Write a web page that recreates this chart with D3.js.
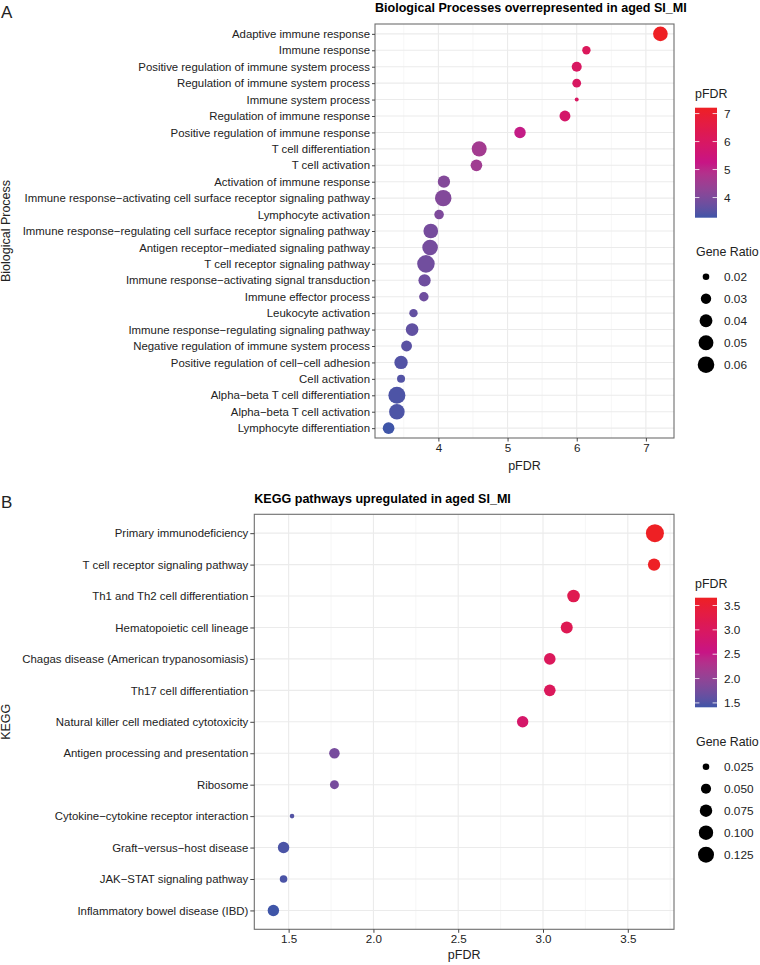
<!DOCTYPE html>
<html>
<head>
<meta charset="utf-8">
<script src="https://cdn.jsdelivr.net/npm/d3@7"></script>
<style>
  html, body { margin: 0; padding: 0; background: #fff; }
  svg text { font-family: "Liberation Sans", Arial, sans-serif; }
</style>
</head>
<body>
<svg id="chart" width="760" height="965"></svg>
<script>
// ---------- Panel A data ----------
const categoriesA = [
  "Adaptive immune response",
  "Immune response",
  "Positive regulation of immune system process",
  "Regulation of immune system process",
  "Immune system process",
  "Regulation of immune response",
  "Positive regulation of immune response",
  "T cell differentiation",
  "T cell activation",
  "Activation of immune response",
  "Immune response\u2212activating cell surface receptor signaling pathway",
  "Lymphocyte activation",
  "Immune response\u2212regulating cell surface receptor signaling pathway",
  "Antigen receptor\u2212mediated signaling pathway",
  "T cell receptor signaling pathway",
  "Immune response\u2212activating signal transduction",
  "Immune effector process",
  "Leukocyte activation",
  "Immune response\u2212regulating signaling pathway",
  "Negative regulation of immune system process",
  "Positive regulation of cell\u2212cell adhesion",
  "Cell activation",
  "Alpha\u2212beta T cell differentiation",
  "Alpha\u2212beta T cell activation",
  "Lymphocyte differentiation"
];
const pfdrA = [7.21, 6.14, 6.00, 6.00, 6.00, 5.83, 5.18, 4.59, 4.55, 4.08, 4.07, 4.01, 3.89, 3.88, 3.82, 3.80, 3.79, 3.64, 3.62, 3.54, 3.46, 3.46, 3.40, 3.40, 3.28];
const geneRatioA = [0.049, 0.024, 0.029, 0.025, 0.0166, 0.032, 0.034, 0.051, 0.035, 0.0375, 0.059, 0.0275, 0.049, 0.054, 0.066, 0.0375, 0.027, 0.024, 0.039, 0.032, 0.0425, 0.023, 0.0625, 0.054, 0.035];
const xTicksA = [4, 5, 6, 7];
const colorTicksA = [4, 5, 6, 7];
const sizeKeysA = [0.02, 0.03, 0.04, 0.05, 0.06];
const sizeKeyLabelsA = ["0.02", "0.03", "0.04", "0.05", "0.06"];

// ---------- Panel B data ----------
const categoriesB = [
  "Primary immunodeficiency",
  "T cell receptor signaling pathway",
  "Th1 and Th2 cell differentiation",
  "Hematopoietic cell lineage",
  "Chagas disease (American trypanosomiasis)",
  "Th17 cell differentiation",
  "Natural killer cell mediated cytotoxicity",
  "Antigen processing and presentation",
  "Ribosome",
  "Cytokine\u2212cytokine receptor interaction",
  "Graft\u2212versus\u2212host disease",
  "JAK\u2212STAT signaling pathway",
  "Inflammatory bowel disease (IBD)"
];
const pfdrB = [3.66, 3.655, 3.18, 3.14, 3.04, 3.04, 2.88, 1.77, 1.77, 1.52, 1.47, 1.47, 1.41];
const geneRatioB = [0.160, 0.074, 0.0765, 0.069, 0.065, 0.065, 0.063, 0.054, 0.040, 0.0176, 0.063, 0.0305, 0.063];
const xTicksB = [1.5, 2.0, 2.5, 3.0, 3.5];
const colorTicksB = [1.5, 2.0, 2.5, 3.0, 3.5];
const sizeKeysB = [0.025, 0.050, 0.075, 0.100, 0.125];
const sizeKeyLabelsB = ["0.025", "0.050", "0.075", "0.100", "0.125"];

const titleA = "Biological Processes overrepresented in aged SI_MI";
const titleB = "KEGG pathways upregulated in aged SI_MI";

const colLow = "#3F55A8", colMid = "#C71585", colHigh = "#EE2024";

const svg = d3.select("#chart");

function drawPanel(cfg) {
  const g = svg.append("g");
  const {left, right, top, bottom} = cfg.box;
  const ext = d3.extent(cfg.values);
  const pad = (ext[1] - ext[0]) * 0.05;
  const x = d3.scaleLinear().domain([ext[0] - pad, ext[1] + pad]).range([left, right]);
  const y = d3.scalePoint().domain(cfg.categories).range([top, bottom]).padding(0.6);
  const mid = (ext[0] + ext[1]) / 2;
  const color = d3.scaleLinear().domain([ext[0], mid, ext[1]]).range([colLow, colMid, colHigh]).interpolate(d3.interpolateLab);
  const size = d3.scaleSqrt().domain([0, 0.05]).range([cfg.rLo, cfg.rLo + cfg.rK * Math.sqrt(0.05)]);
  const rad = v => size(Math.max(0, v - cfg.sizeFloor));

  // gridlines
  const minor = [];
  const ticks = cfg.xTicks;
  const step = ticks[1] - ticks[0];
  for (let i = -1; i < ticks.length; i++) {
    const m = (i < 0 ? ticks[0] - step : ticks[i]) + step / 2;
    if (m > x.domain()[0] && m < x.domain()[1]) minor.push(m);
  }
  g.append("g").selectAll("line").data(minor).join("line")
    .attr("x1", d => x(d)).attr("x2", d => x(d)).attr("y1", top).attr("y2", bottom)
    .attr("stroke", "#F0F0F0").attr("stroke-width", 0.6);
  g.append("g").selectAll("line").data(ticks).join("line")
    .attr("x1", d => x(d)).attr("x2", d => x(d)).attr("y1", top).attr("y2", bottom)
    .attr("stroke", "#EBEBEB").attr("stroke-width", 1.1);
  g.append("g").selectAll("line").data(cfg.categories).join("line")
    .attr("x1", left).attr("x2", right).attr("y1", d => y(d)).attr("y2", d => y(d))
    .attr("stroke", "#EBEBEB").attr("stroke-width", 1.1);

  // points
  const data = cfg.categories.map((c, i) => ({c, v: cfg.values[i], r: cfg.ratios[i]}));
  g.append("g").selectAll("circle").data(data).join("circle")
    .attr("cx", d => x(d.v)).attr("cy", d => y(d.c)).attr("r", d => rad(d.r))
    .attr("fill", d => color(d.v));

  // border
  g.append("rect").attr("x", left).attr("y", top).attr("width", right - left).attr("height", bottom - top)
    .attr("fill", "none").attr("stroke", "#6E6E6E").attr("stroke-width", 1.1);

  const FF = "Liberation Sans, Arial, sans-serif";
  // axes
  const ax = g.append("g").attr("transform", `translate(0,${bottom})`)
    .call(d3.axisBottom(x).tickValues(ticks).tickFormat(cfg.xFmt).tickSize(3.5).tickPadding(2));
  ax.select(".domain").remove();
  ax.selectAll("line").attr("stroke", "#444");
  ax.selectAll("text").attr("font-size", 11.6).attr("fill", "#222").style("font-family", FF);

  const ay = g.append("g").attr("transform", `translate(${left},0)`)
    .call(d3.axisLeft(y).tickSize(cfg.yTick).tickPadding(2));
  ay.select(".domain").remove();
  ay.selectAll("line").attr("stroke", "#444");
  ay.selectAll("text").attr("font-size", cfg.yFont).attr("fill", "#222").style("font-family", FF);

  // titles
  g.append("text").attr("x", left).attr("y", cfg.titleY).attr("font-size", 12.55).attr("font-weight", "bold")
    .attr("fill", "#000").text(cfg.title);
  g.append("text").attr("x", (left + right) / 2).attr("y", cfg.xLabY).attr("text-anchor", "middle")
    .attr("font-size", 12.5).attr("fill", "#222").text("pFDR");
  g.append("text").attr("transform", `translate(${cfg.yLabX},${(top + bottom) / 2}) rotate(-90)`)
    .attr("text-anchor", "middle").attr("font-size", 12.5).attr("fill", "#222").text(cfg.yLabel);
  g.append("text").attr("x", 1).attr("y", cfg.letterY).attr("font-size", 17).attr("fill", "#222").text(cfg.letter);

  // color legend
  const L = cfg.legend;
  g.append("text").attr("x", L.x).attr("y", L.titleY).attr("font-size", 12.4).attr("fill", "#222").text("pFDR");
  const gid = "grad" + cfg.letter;
  const grad = svg.append("defs").append("linearGradient").attr("id", gid)
    .attr("x1", 0).attr("x2", 0).attr("y1", 1).attr("y2", 0);
  d3.range(0, 21).forEach(i => {
    const v = ext[0] + (ext[1] - ext[0]) * i / 20;
    grad.append("stop").attr("offset", (i / 20)).attr("stop-color", color(v));
  });
  const cb = d3.scaleLinear().domain(ext).range([L.barBottom, L.barTop]);
  g.append("rect").attr("x", L.x).attr("y", L.barTop).attr("width", 22).attr("height", L.barBottom - L.barTop)
    .attr("fill", `url(#${gid})`);
  const ct = g.append("g").selectAll("g").data(cfg.colorTicks).join("g");
  ct.append("line").attr("x1", L.x).attr("x2", L.x + 4.4).attr("y1", d => cb(d)).attr("y2", d => cb(d))
    .attr("stroke", "#fff").attr("stroke-width", 0.8);
  ct.append("line").attr("x1", L.x + 22 - 4.4).attr("x2", L.x + 22).attr("y1", d => cb(d)).attr("y2", d => cb(d))
    .attr("stroke", "#fff").attr("stroke-width", 0.8);
  ct.append("text").attr("x", L.x + 29).attr("y", d => cb(d)).attr("dy", "0.36em")
    .attr("font-size", 11.8).attr("fill", "#222").text(d => cfg.cFmt(d));

  // size legend
  g.append("text").attr("x", L.x + 1).attr("y", L.sizeTitleY).attr("font-size", 12.4).attr("fill", "#222").text("Gene Ratio");
  const ky = d3.scalePoint().domain(cfg.sizeKeys).range([L.keyTop, L.keyTop + 22 * (cfg.sizeKeys.length - 1)]);
  const sk = g.append("g").selectAll("g").data(cfg.sizeKeys).join("g");
  sk.append("circle").attr("cx", L.x + 11).attr("cy", d => ky(d)).attr("r", d => rad(d)).attr("fill", "#000");
  sk.append("text").attr("x", L.x + 29).attr("y", d => ky(d)).attr("dy", "0.36em")
    .attr("font-size", 11.8).attr("fill", "#222").text((d, i) => cfg.sizeKeyLabels[i]);
}

drawPanel({
  letter: "A", letterY: 18,
  categories: categoriesA, values: pfdrA, ratios: geneRatioA,
  box: {left: 375, right: 674, top: 24, bottom: 438},
  xTicks: xTicksA, xFmt: d3.format("d"), colorTicks: colorTicksA, cFmt: d3.format("d"),
  sizeKeys: sizeKeysA, sizeKeyLabels: sizeKeyLabelsA,
  rLo: 1.145, rK: 34.1, sizeFloor: 0.016,
  yTick: 3, yFont: 11.4,
  title: titleA, titleY: 12, xLabY: 470, yLabel: "Biological Process", yLabX: 10,
  legend: {x: 695, titleY: 98, barTop: 107.7, barBottom: 217.7, sizeTitleY: 255.5, keyTop: 276.7}
});

drawPanel({
  letter: "B", letterY: 508,
  categories: categoriesB, values: pfdrB, ratios: geneRatioB,
  box: {left: 254.3, right: 674, top: 514.3, bottom: 929.3},
  xTicks: xTicksB, xFmt: d3.format(".1f"), colorTicks: colorTicksB, cFmt: d3.format(".1f"),
  sizeKeys: sizeKeysB, sizeKeyLabels: sizeKeyLabelsB,
  rLo: 1.271, rK: 20.29, sizeFloor: 0.015,
  yTick: 4, yFont: 11.4,
  title: titleB, titleY: 503, xLabY: 959, yLabel: "KEGG", yLabX: 10,
  legend: {x: 695, titleY: 588, barTop: 597.7, barBottom: 707.3, sizeTitleY: 745.5, keyTop: 766.7}
});
</script>
</body>
</html>
